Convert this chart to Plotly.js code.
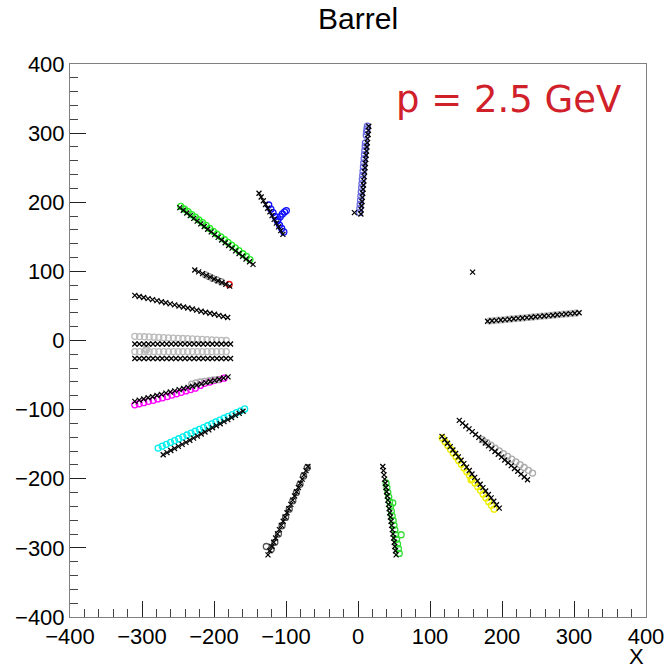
<!DOCTYPE html>
<html>
<head>
<meta charset="utf-8">
<script src="https://cdn.plot.ly/plotly-3.0.1.min.js"></script>
<style>html,body{margin:0;padding:0;background:#fff;}#chart{width:668px;height:668px;}</style>
</head>
<body>
<div id="chart"></div>
<script>
// ---- hits (black x markers) ----
const hitA_x = [4.0,4.5,5.0,5.6,6.1,6.6,7.1,7.7,8.2,8.7,9.2,9.8,10.3,10.8,11.3,11.9,12.4,12.9,13.4,14.0,14.5,15.0];
const hitA_y = [183,189,195,201,207,213,219,225,231,237,244,250,256,262,268,274,280,286,292,298,304,310];
const hitB_x = [-137.5,-134.5,-131.5,-128.4,-125.4,-122.4,-119.4,-116.4,-113.3,-110.3,-107.3,-104.3];
const hitB_y = [213,207.6,202.2,196.8,191.4,186,180.6,175.2,169.8,164.4,159,153.6];
const hitC_x = [-247.5,-242.7,-237.8,-233.0,-228.1,-223.3,-218.4,-213.6,-208.8,-203.9,-199.1,-194.2,-189.4,-184.5,-179.7,-174.9,-170.0,-165.2,-160.3,-155.5,-150.6,-145.8];
const hitC_y = [192.3,188.4,184.5,180.6,176.6,172.7,168.8,164.9,161.0,157.1,153.2,149.2,145.3,141.4,137.5,133.6,129.7,125.8,121.9,117.9,114.0,110.1];
const hitD_x = [-226.7,-221.3,-215.9,-210.5,-205.1,-199.8,-194.4,-189.0,-183.6,-178.2];
const hitD_y = [101.9,99.3,96.7,94.2,91.6,89.0,86.4,83.9,81.3,78.7];
const hitE_x = [-310,-303.9,-297.7,-291.6,-285.4,-279.3,-273.1,-267.0,-260.9,-254.7,-248.6,-242.4,-236.3,-230.1,-224.0,-217.9,-211.7,-205.6,-199.4,-193.3,-187.1,-181.0];
const hitE_y = [65.2,63.7,62.2,60.6,59.1,57.6,56.1,54.6,53.0,51.5,50.0,48.5,47.0,45.5,43.9,42.4,40.9,39.4,37.9,36.3,34.8,33.3];
const hitF_x = [-310,-303.7,-297.3,-291,-284.7,-278.3,-272,-265.7,-259.3,-253,-246.7,-240.3,-234,-227.7,-221.3,-215,-208.7,-202.3,-196,-189.7,-183.3,-177];
const hitF_y = [-5,-5,-5,-5,-5,-5,-5,-5,-5,-5,-5,-5,-5,-5,-5,-5,-5,-5,-5,-5,-5,-5];
const hitG_x = [-310,-303.7,-297.3,-291,-284.7,-278.3,-272,-265.7,-259.3,-253,-246.7,-240.3,-234,-227.7,-221.3,-215,-208.7,-202.3,-196,-189.7,-183.3,-177];
const hitG_y = [-26,-26,-26,-26,-26,-26,-26,-26,-26,-26,-26,-26,-26,-26,-26,-26,-26,-26,-26,-26,-26,-26];
const hitH_x = [-310,-303.8,-297.7,-291.5,-285.3,-279.2,-273,-266.8,-260.7,-254.5,-248.3,-242.2,-236,-229.8,-223.7,-217.5,-211.3,-205.2,-199,-192.8,-186.7,-180.5];
const hitH_y = [-88,-86.3,-84.6,-82.9,-81.3,-79.6,-77.9,-76.2,-74.5,-72.8,-71.1,-69.5,-67.8,-66.1,-64.4,-62.7,-61,-59.3,-57.7,-56,-54.3,-52.6];
const hitI_x = [-270.6,-265.3,-260.0,-254.8,-249.5,-244.2,-238.9,-233.6,-228.4,-223.1,-217.8,-212.5,-207.2,-202.0,-196.7,-191.4,-186.1,-180.8,-175.6,-170.3,-165.0,-159.7];
const hitI_y = [-165.2,-162.2,-159.2,-156.2,-153.2,-150.3,-147.3,-144.3,-141.3,-138.3,-135.3,-132.3,-129.3,-126.3,-123.3,-120.4,-117.4,-114.4,-111.4,-108.4,-105.4,-102.4];
const hitJ_x = [116.7,120.5,124.3,128.1,131.8,135.6,139.4,143.2,147.0,150.8,154.6,158.3,162.1,165.9,169.7,173.5,177.3,181.1,184.9,188.6,192.4,196.2];
const hitJ_y = [-138.7,-143.6,-148.6,-153.5,-158.5,-163.4,-168.4,-173.3,-178.2,-183.2,-188.1,-193.1,-198.0,-203.0,-207.9,-212.8,-217.8,-222.7,-227.7,-232.6,-237.6,-242.5];
const hitK_x = [140.7,145.2,149.7,154.2,158.7,163.2,167.8,172.3,176.8,181.3,185.8,190.3,194.8,199.3,203.8,208.4,212.9,217.4,221.9,226.4,230.9,235.4];
const hitK_y = [-115.5,-119.6,-123.7,-127.8,-131.9,-136.0,-140.1,-144.2,-148.3,-152.4,-156.5,-160.5,-164.6,-168.7,-172.8,-176.9,-181.0,-185.1,-189.2,-193.3,-197.4,-201.5];
const hitL_x = [34.4,35.3,36.2,37.0,37.9,38.8,39.7,40.6,41.4,42.3,43.2,44.1,45.0,45.9,46.7,47.6,48.5,49.4,50.3,51.1,52.0,52.9];
const hitL_y = [-182.2,-188.3,-194.4,-200.5,-206.6,-212.7,-218.8,-224.9,-231.0,-237.1,-243.2,-249.2,-255.3,-261.4,-267.5,-273.6,-279.7,-285.8,-291.9,-298.0,-304.1,-310.2];
const hitM_x = [-69.6,-72.2,-74.9,-77.5,-80.2,-82.8,-85.4,-88.1,-90.7,-93.3,-96.0,-98.6,-101.3,-103.9,-106.5,-109.2,-111.8,-114.4,-117.1,-119.7,-122.4,-125.0];
const hitM_y = [-182.2,-188.3,-194.4,-200.5,-206.6,-212.7,-218.8,-224.9,-231.0,-237.1,-243.2,-249.2,-255.3,-261.4,-267.5,-273.6,-279.7,-285.8,-291.9,-298.0,-304.1,-310.2];
const hitN_x = [180.0,186.1,192.1,198.2,204.2,210.3,216.3,222.4,228.4,234.5,240.5,246.6,252.6,258.7,264.7,270.8,276.8,282.9,288.9,295.0,301.0,307.1];
const hitN_y = [27.9,28.5,29.1,29.6,30.2,30.8,31.4,32.0,32.5,33.1,33.7,34.3,34.9,35.5,36.0,36.6,37.2,37.8,38.4,38.9,39.5,40.1];
const hitLone_x = [-5, 159.2];
const hitLone_y = [185, 99];

// ---- reconstructed points (coloured open circles) ----
const cirA_x = [2,2.5,3,3.5,4,4.5,5,5.5,6,6.5,7,7.5,8,8.5,9,9.5,10,10.3,11.5,12,12.5,13];
const cirA_y = [185,191,197,203,209,215,221,227,233,239,245,251,257,263,269,275,281,286,297,302,306,310];
const cirB_x = [-124,-121,-118,-115,-112,-109,-106,-103,-111,-108,-105,-102,-99.5];
const cirB_y = [196,190,185,179,173,167,162,157,175,179,183,186,188];
const cirC_x = [-246,-241,-236,-231,-226,-221,-216,-211,-206,-201,-196,-190.5,-185.5,-180.5,-175.5,-170.5,-165.5,-160,-155,-150];
const cirC_y = [194,190,186.5,182,178.5,174.5,170.5,166.5,162,158,154,150,146,142,138,134,130,125.5,121.5,117];
const cirD_x = [-212,-207,-202,-196,-190];
const cirD_y = [95,92.5,90,87.5,85];
const cirRed_x = [-179];
const cirRed_y = [81];
const cirF_x = [-310,-303.3,-296.6,-290,-283.3,-276.6,-269.9,-263.2,-256.5,-249.8,-243.2,-236.5,-229.8,-223.1,-216.4,-209.7,-203,-196.4,-189.7,-183];
const cirF_y = [6,5.7,5.4,5.1,4.8,4.5,4.2,3.9,3.5,3.2,2.9,2.6,2.3,2,1.6,1.3,1,0.6,0.3,0];
const cirG_x = [-310,-303.3,-296.6,-290,-283.3,-276.6,-269.9,-263.2,-256.5,-249.8,-243.2,-236.5,-229.8,-223.1,-216.4,-209.7,-203,-196.4,-189.7,-183,-294,-294];
const cirG_y = [-16,-16,-16,-16,-16,-16,-16,-16,-16,-16,-16,-16,-16,-16,-16,-16,-16,-16,-16,-16,-12,-14];
const cirH_x = [-310,-304,-297.5,-291,-284.5,-278,-271.5,-265,-258.5,-252,-245.5,-239,-232.5,-226,-219,-213,-206,-200,-193,-186];
const cirH_y = [-93,-91.5,-90,-88,-86.5,-84.5,-83,-81,-79,-77,-75,-73,-71,-69,-65,-62,-60,-58,-56.5,-54.5];
const cirHg_x = [-231,-225,-219,-213,-207,-201,-195];
const cirHg_y = [-63,-61.5,-60,-59,-58,-57,-56.5];
const cirI_x = [-277.6,-271.9,-266.2,-260.4,-254.7,-249.0,-243.3,-237.5,-231.8,-226.1,-220.4,-214.6,-208.9,-203.2,-197.5,-191.8,-186.0,-180.3,-174.6,-168.9,-163.1,-157.4];
const cirI_y = [-155.6,-152.9,-150.2,-147.5,-144.8,-142.1,-139.4,-136.7,-134.0,-131.3,-128.6,-126.0,-123.3,-120.6,-117.9,-115.2,-112.5,-109.8,-107.1,-104.4,-101.7,-99.0];
const cirJ_x = [117,120.8,124.6,128.4,132.2,136,139.7,143.5,147.3,151.1,154.9,158.7,162.5,166.3,170.1,173.8,177.6,181.4,185.2,189,157];
const cirJ_y = [-141,-146.4,-151.8,-157.3,-162.7,-168.1,-173.5,-178.9,-184.3,-189.8,-195.2,-200.6,-206,-211.4,-216.8,-222.3,-227.7,-233.1,-238.5,-244,-201.5];
const cirK_x = [173,178.8,184.6,190.4,196.1,201.9,207.7,213.5,219.3,225.1,230.8,236.6,242.4];
const cirK_y = [-143.5,-147.5,-151.5,-155.6,-159.6,-163.6,-167.7,-171.7,-175.7,-179.7,-183.7,-187.8,-191.8];
const cirL_x = [39,40.2,41.4,42.7,43.9,45.1,46.3,47.5,48.8,50,51.2,52.4,53.6,54.9,56.1,57.3,48.3,59.9];
const cirL_y = [-206,-212.8,-219.6,-226.4,-233.2,-240,-246.8,-253.6,-260.4,-267.2,-274,-280.8,-287.6,-294.4,-301.2,-308,-235,-281];
const cirM_x = [-70.5,-75.5,-80.5,-85.5,-90.5,-95.5,-100.5,-105.5,-110.5,-115.5,-120.5,-127.3];
const cirM_y = [-184,-196,-208,-220,-232,-244,-256,-268,-280,-292,-302,-298];
const cirN_x = [183,189,195,201,207,213,219,225,231,237,243,249,255,261,267,273,279,285,291,297,303];
const cirN_y = [28.2,28.8,29.4,29.9,30.5,31.1,31.7,32.2,32.8,33.4,34.0,34.6,35.2,35.7,36.3,36.9,37.5,38.1,38.6,39.2,39.8];

const circleSets = [
  [cirA_x, cirA_y, '#6a6ae0'],
  [cirB_x, cirB_y, '#1010ff'],
  [cirC_x, cirC_y, '#22ee22'],
  [cirD_x, cirD_y, '#999999'],
  [cirF_x, cirF_y, '#bbbbbb'],
  [cirG_x, cirG_y, '#bbbbbb'],
  [cirH_x, cirH_y, '#ff00ff'],
  [cirHg_x, cirHg_y, '#aaaaaa'],
  [cirI_x, cirI_y, '#00eeee'],
  [cirJ_x, cirJ_y, '#eeee00'],
  [cirK_x, cirK_y, '#aaaaaa'],
  [cirL_x, cirL_y, '#33dd33'],
  [cirM_x, cirM_y, '#555555'],
  [cirN_x, cirN_y, '#bbbbbb'],
  [cirRed_x, cirRed_y, '#ee1111']
];
const hitSets = [
  [hitA_x, hitA_y],[hitB_x, hitB_y],[hitC_x, hitC_y],[hitD_x, hitD_y],[hitE_x, hitE_y],
  [hitF_x, hitF_y],[hitG_x, hitG_y],[hitH_x, hitH_y],[hitI_x, hitI_y],[hitJ_x, hitJ_y],
  [hitK_x, hitK_y],[hitL_x, hitL_y],[hitM_x, hitM_y],[hitN_x, hitN_y],[hitLone_x, hitLone_y]
];

const traces = [];
circleSets.forEach(s => traces.push({
  x: s[0], y: s[1], type: 'scatter', mode: 'markers', hoverinfo: 'skip',
  marker: {symbol: 'circle-open', size: 6, color: s[2], line: {width: 1.3, color: s[2]}}
}));
hitSets.forEach(s => traces.push({
  x: s[0], y: s[1], type: 'scatter', mode: 'markers', hoverinfo: 'skip',
  marker: {symbol: 'x-thin-open', size: 5, color: '#000', line: {width: 1.25, color: '#000'}}
}));

const axisBase = {
  range: [-400, 400], dtick: 100, tick0: 0, ticks: 'inside', ticklen: 16, tickwidth: 1,
  tickcolor: '#222', showline: true, linecolor: '#808080', linewidth: 1, mirror: true,
  showgrid: false, zeroline: false, fixedrange: true,
  tickfont: {family: 'Liberation Sans, Arial, sans-serif', size: 22, color: '#000'},
  minor: {dtick: 20, ticks: 'inside', ticklen: 8, tickcolor: '#444', tickwidth: 1, showgrid: false}
};

const layout = {
  width: 668, height: 668,
  margin: {l: 70, r: 22, t: 64, b: 51, pad: 0},
  paper_bgcolor: '#fff', plot_bgcolor: '#fff',
  showlegend: false,
  title: {text: 'Barrel', x: 0.536, xanchor: 'center', y: 0.972, yanchor: 'middle', yref: 'container',
          font: {family: 'Liberation Sans, Arial, sans-serif', size: 30, color: '#000'}},
  xaxis: Object.assign({}, axisBase, {ticklabelstandoff: 0}),
  yaxis: Object.assign({}, axisBase, {ticklabelstandoff: 0}),
  annotations: [
    {text: 'p = 2.5 GeV', xref: 'paper', yref: 'paper', x: 0.563, y: 0.935, xanchor: 'left', yanchor: 'middle',
     showarrow: false, font: {family: 'DejaVu Sans, sans-serif', size: 37, color: '#d0202a'}},
    {text: 'X', xref: 'paper', yref: 'paper', x: 0.983, y: -0.072, xanchor: 'center', yanchor: 'middle',
     showarrow: false, font: {family: 'Liberation Sans, Arial, sans-serif', size: 22, color: '#000'}}
  ]
};

Plotly.newPlot('chart', traces, layout, {staticPlot: true, displayModeBar: false});
</script>
</body>
</html>
